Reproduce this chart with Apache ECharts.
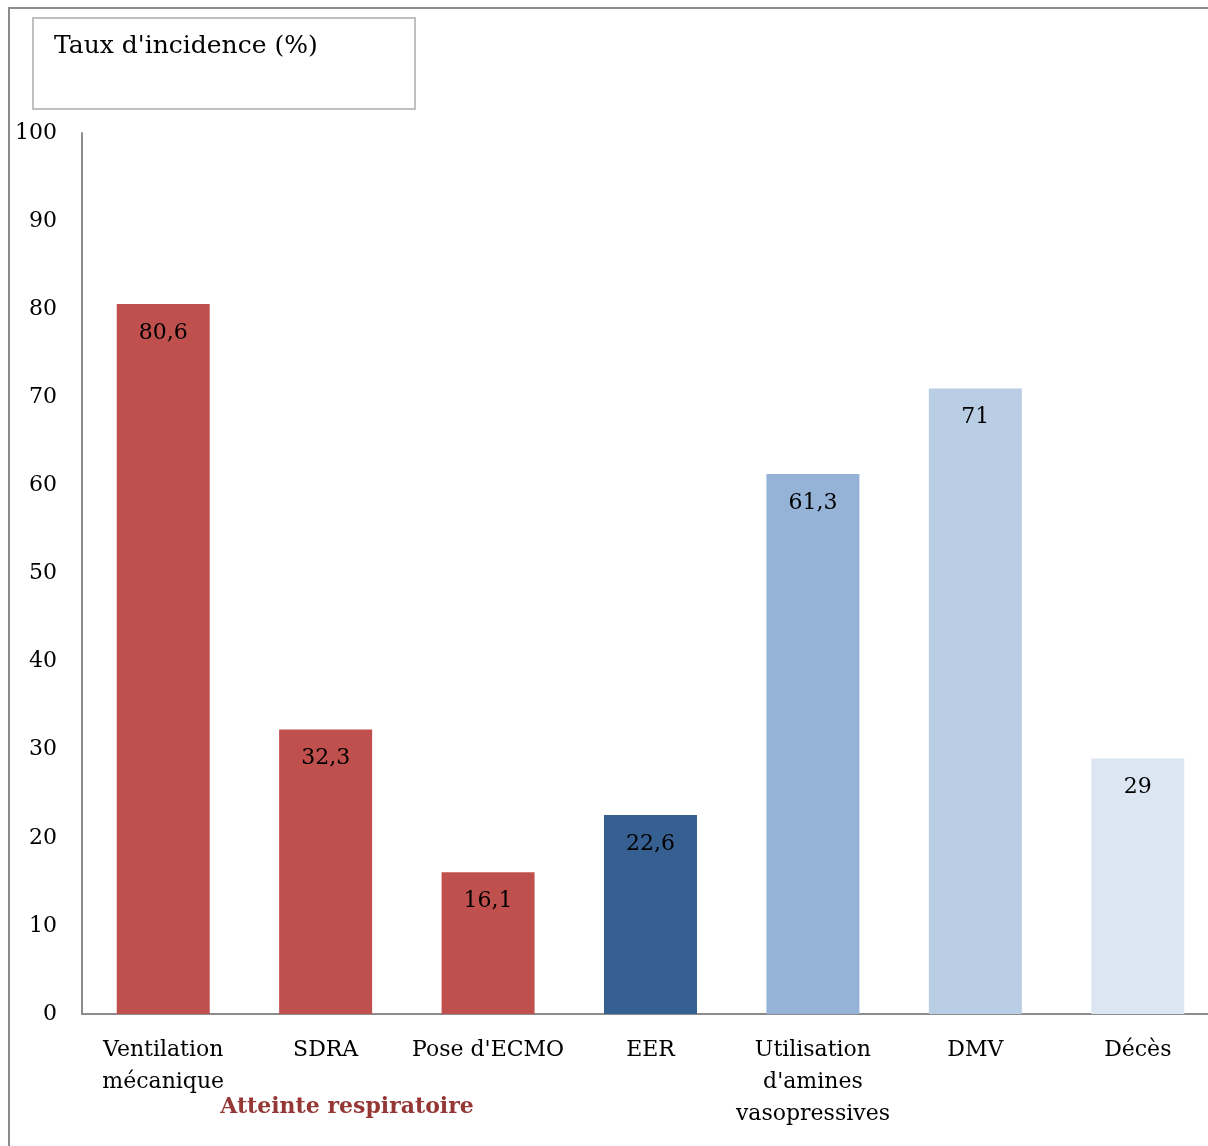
<!DOCTYPE html>
<html>
<head>
<meta charset="utf-8">
<script src="https://cdn.jsdelivr.net/npm/echarts@6/dist/echarts.min.js"></script>
<style>
  html, body { margin: 0; padding: 0; background: #fff; overflow: hidden; }
  #bar { width: 1220px; height: 1146px; }
</style>
</head>
<body>
<div id="bar"></div>
<script>
const categories = ['Ventilation\nmécanique', 'SDRA', "Pose d'ECMO", 'EER',
  "Utilisation\nd'amines\nvasopressives", 'DMV', 'Décès'];
const values = [80.6, 32.3, 16.1, 22.6, 61.3, 71, 29];
const barColors = ['#C0504D', '#C0504D', '#C0504D', '#376092', '#95B3D7', '#B9CDE5', '#DCE6F2'];
const yTicks = [0, 10, 20, 30, 40, 50, 60, 70, 80, 90, 100];

const FONT = '"DejaVu Serif", "Liberation Serif", serif';

const chart = echarts.init(document.getElementById('bar'));

const option = {
  backgroundColor: '#fff',
  animation: false,
  grid: {
    left: 82,
    top: 133,
    right: 1,
    height: 881,
  },
  xAxis: {
    type: 'category',
    data: categories,
    axisTick: { show: false },
    axisLine: { lineStyle: { color: '#8c8c8c', width: 2 } },
    axisLabel: {
      interval: 0,
      margin: 20,
      color: '#000',
      fontFamily: FONT,
      fontSize: 22,
      lineHeight: 32,
      verticalAlign: 'top',
    },
  },
  yAxis: {
    type: 'value',
    min: yTicks[0],
    max: yTicks[yTicks.length - 1],
    interval: 10,
    splitLine: { show: false },
    axisTick: { show: false },
    axisLine: { show: true, lineStyle: { color: '#8c8c8c', width: 2 } },
    axisLabel: {
      margin: 25,
      color: '#000',
      fontFamily: FONT,
      fontSize: 22,
    },
  },
  series: [{
    type: 'bar',
    barWidth: 93,
    data: values.map((v, i) => ({ value: v, itemStyle: { color: barColors[i] } })),
    label: {
      show: true,
      position: 'insideTop',
      distance: 18,
      color: '#000',
      fontFamily: FONT,
      fontSize: 22,
      formatter: (p) => String(p.value).replace('.', ','),
    },
  }],
  graphic: [
    {
      type: 'rect',
      shape: { x: 9, y: 8, width: 1300, height: 1300 },
      style: { fill: 'none', stroke: '#8c8c8c', lineWidth: 2 },
      silent: true,
    },
    {
      type: 'rect',
      shape: { x: 33, y: 18, width: 382, height: 91 },
      style: { fill: '#fff', stroke: '#c0c0c0', lineWidth: 2 },
      silent: true,
    },
    {
      type: 'text',
      x: 54,
      y: 46,
      style: {
        text: "Taux d'incidence (%)",
        fill: '#000',
        font: '25px ' + FONT,
        verticalAlign: 'middle',
      },
    },
    {
      type: 'text',
      x: 347,
      y: 1107,
      style: {
        text: 'Atteinte respiratoire',
        fill: '#953735',
        font: 'bold 22px ' + FONT,
        align: 'center',
        verticalAlign: 'middle',
      },
    },
  ],
};

chart.setOption(option);
</script>
</body>
</html>
